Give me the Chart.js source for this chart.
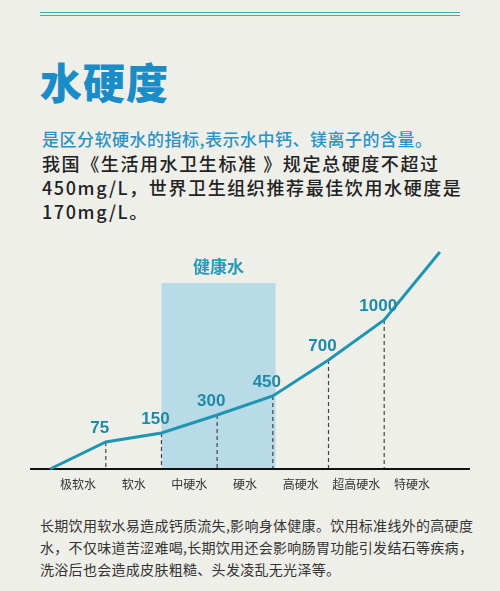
<!DOCTYPE html>
<html><head><meta charset="utf-8">
<script src="https://cdn.jsdelivr.net/npm/chart.js@4/dist/chart.umd.min.js"></script>
<style>
body{margin:0;width:500px;height:591px;background:#efefea;font-family:"Noto Sans CJK SC",sans-serif;position:relative;overflow:hidden}
.rule{position:absolute;left:40px;top:12px;width:420px;height:2px;border-top:1px solid #4aa7b4;border-bottom:1px solid #4aa7b4}
h1{position:absolute;left:40px;top:50px;margin:0;font-size:42px;font-weight:900;color:#1a8cc6;letter-spacing:1px}
.p{position:absolute;left:42px;top:126px;width:450px;font-size:18px;line-height:24px;color:#222;font-weight:500;letter-spacing:1.6px;white-space:nowrap}
.p .b{color:#2a94c4;font-size:17px;letter-spacing:0.5px}
.foot{position:absolute;left:40px;top:514px;width:440px;font-size:14px;line-height:22px;color:#333;letter-spacing:0.3px}
#wrap{position:absolute;left:0;top:240px;width:500px;height:260px}
</style></head><body>
<div class="rule"></div>
<h1>水硬度</h1>
<div class="p"><span class="b">是区分软硬水的指标,表示水中钙、镁离子的含量。</span><br>我国《生活用水卫生标准 》规定总硬度不超过<br>450mg/L，世界卫生组织推荐最佳饮用水硬度是<br>170mg/L。</div>
<div class="foot">长期饮用软水易造成钙质流失,影响身体健康。饮用标准线外的高硬度水，不仅味道苦涩难喝,长期饮用还会影响肠胃功能引发结石等疾病，洗浴后也会造成皮肤粗糙、头发凌乱无光泽等。</div>
<div id="wrap"><canvas id="c"></canvas></div>
<script>
// 分类 / 分界值 / 曲线高度
const categories = ["极软水","软水","中硬水","硬水","高硬水","超高硬水","特硬水"];
const boundaryLabels = ["", "75", "150", "300", "450", "700", "1000", ""];
const curveLevels = [0, 27, 36, 54, 73, 109, 149, 217];
const healthyRange = [2, 4.05];
const healthyTop = 186;

const extras = {
  id:"extras",
  beforeDatasetsDraw(chart){
    const {ctx} = chart, x = chart.scales.x, y = chart.scales.y;
    ctx.save();
    ctx.fillStyle = "#b9dbe7";
    ctx.fillRect(x.getPixelForValue(healthyRange[0]), y.getPixelForValue(healthyTop),
      x.getPixelForValue(healthyRange[1]) - x.getPixelForValue(healthyRange[0]),
      y.getPixelForValue(0) - y.getPixelForValue(healthyTop));
    ctx.fillStyle = "#2a9bb6";
    ctx.font = "bold 17px 'Noto Sans CJK SC'";
    ctx.textAlign = "center";
    ctx.fillText("健康水", (x.getPixelForValue(healthyRange[0]) + x.getPixelForValue(healthyRange[1])) / 2, y.getPixelForValue(healthyTop) - 10);
    // 虚线
    ctx.strokeStyle = "#444"; ctx.lineWidth = 1.2; ctx.setLineDash([4,3]);
    for(let i = 1; i < boundaryLabels.length - 1; i++){
      ctx.beginPath();
      ctx.moveTo(x.getPixelForValue(i), y.getPixelForValue(curveLevels[i]));
      ctx.lineTo(x.getPixelForValue(i), y.getPixelForValue(0));
      ctx.stroke();
    }
    ctx.setLineDash([]);
    // 横轴
    ctx.strokeStyle = "#111"; ctx.lineWidth = 2;
    ctx.beginPath();
    ctx.moveTo(x.getPixelForValue(-0.36), y.getPixelForValue(0));
    ctx.lineTo(x.getPixelForValue(7.54), y.getPixelForValue(0));
    ctx.stroke();
    ctx.fillStyle = "#333"; ctx.font = "12px 'Noto Sans CJK SC'";
    categories.forEach((c,i)=>ctx.fillText(c, x.getPixelForValue(i + 0.5), y.getPixelForValue(0) + 20));
    ctx.restore();
  },
  afterDatasetsDraw(chart){
    const {ctx} = chart, x = chart.scales.x, y = chart.scales.y;
    ctx.save();
    ctx.fillStyle = "#1f8aa6"; ctx.font = "bold 17px 'Liberation Sans'"; ctx.textAlign = "center";
    boundaryLabels.forEach((t,i)=>{ if(t) ctx.fillText(t, x.getPixelForValue(i) - 6, y.getPixelForValue(curveLevels[i]) - 9); });
    ctx.restore();
  }
};

new Chart(document.getElementById("c"), {
  type:"line",
  data:{ datasets:[{ data: curveLevels.map((v,i)=>({x:i, y:v})), borderColor:"#1e96b2", borderWidth:3, pointRadius:0, tension:0 }] },
  options:{
    responsive:true, maintainAspectRatio:false, animation:false,
    layout:{padding:0},
    plugins:{legend:{display:false}, tooltip:{enabled:false}},
    scales:{
      x:{type:"linear", min:-0.9, max:8.08, display:false},
      y:{min:-31, max:229, display:false}
    }
  },
  plugins:[extras]
});
</script>
</body></html>
